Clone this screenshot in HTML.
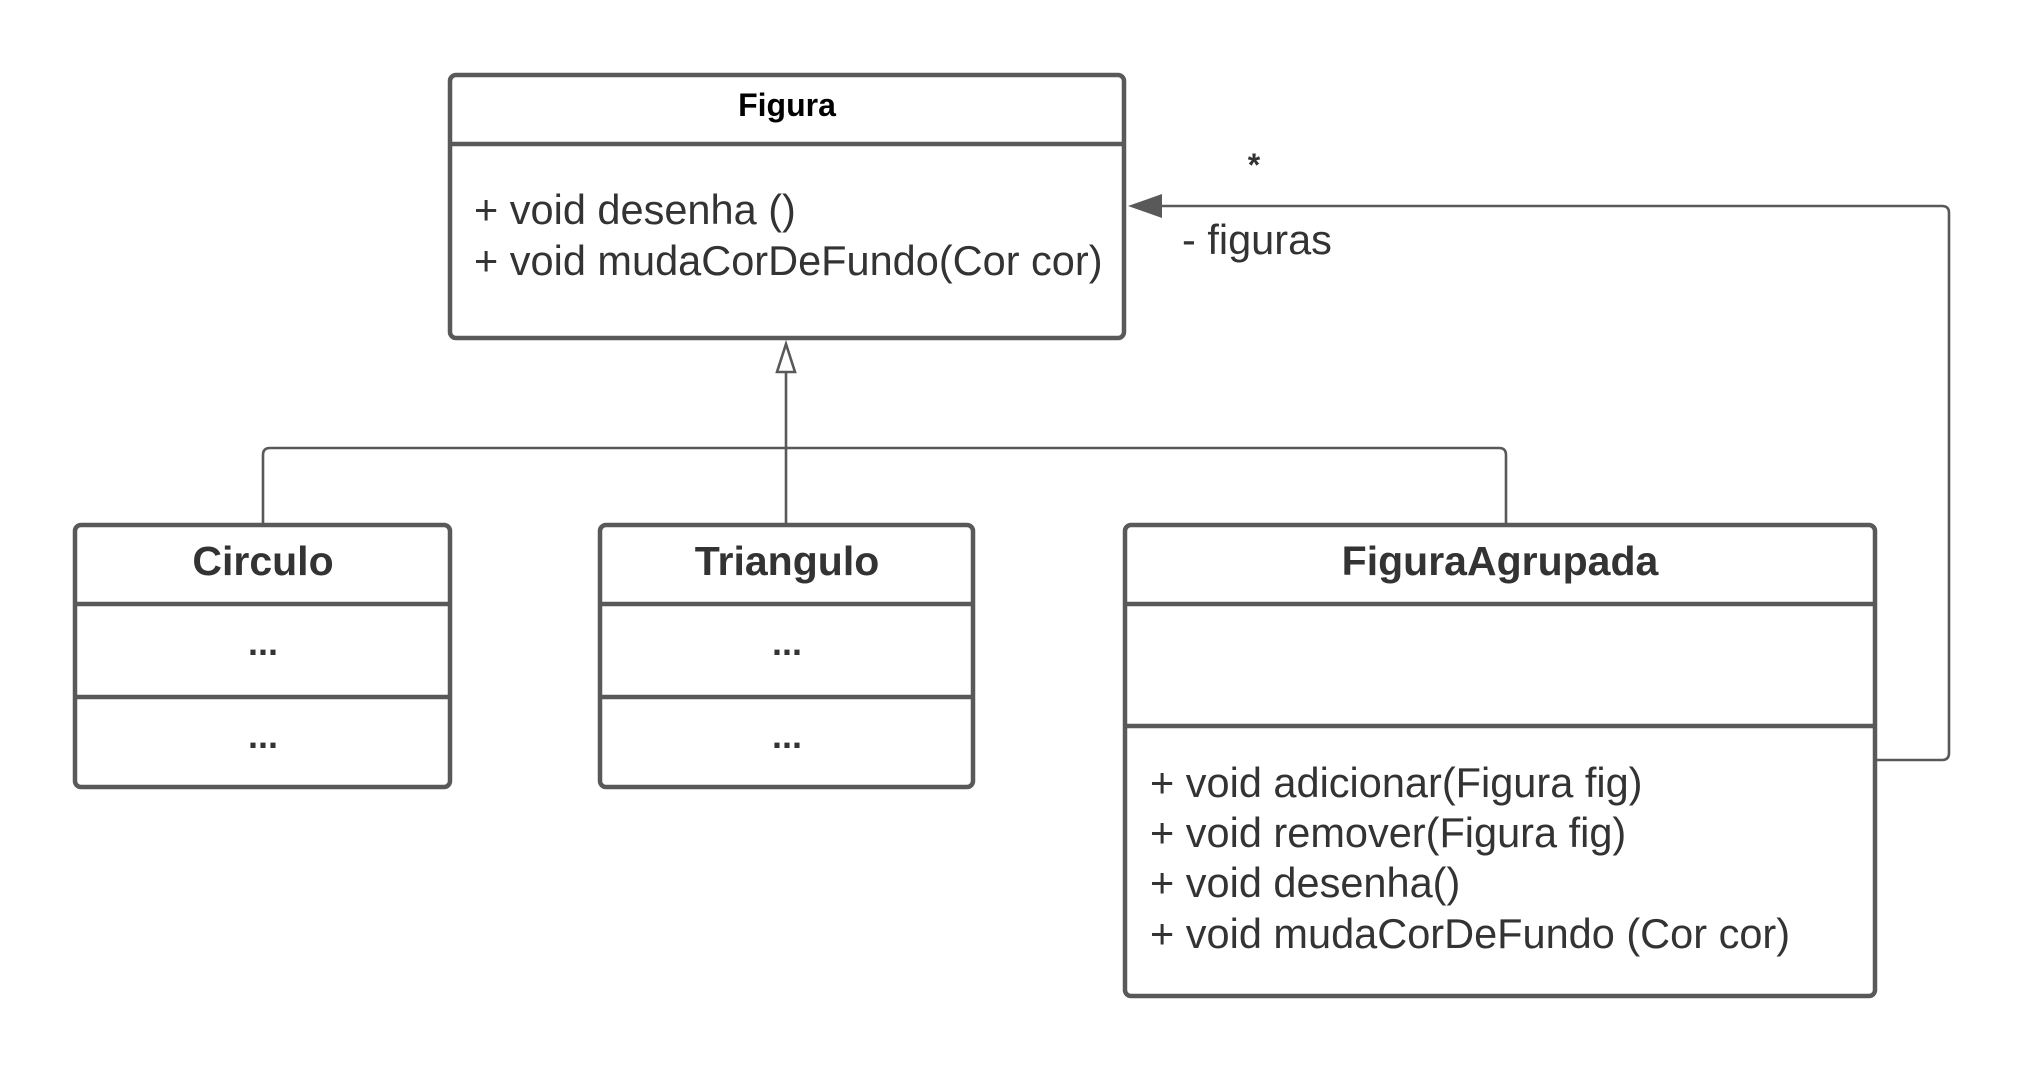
<!DOCTYPE html>
<html><head><style>
body{margin:0;background:#fff}
svg text{font-family:"Liberation Sans",sans-serif;fill:#333}
</style></head><body>
<svg width="2029" height="1071" viewBox="0 0 2029 1071" xmlns="http://www.w3.org/2000/svg">
<g fill="none" stroke="#595959" stroke-width="2.6">
<path d="M1875 760 H1942 Q1949 760 1949 753 V213 Q1949 206 1942 206 H1145"/>
<path d="M786 372 V524"/>
<path d="M263 524 V455 Q263 448 270 448 H1499 Q1506 448 1506 455 V524"/>
</g>
<polygon points="1128,206 1162,194 1162,218" fill="#595959"/>
<polygon points="786,344 777,372 795,372" fill="#fff" stroke="#595959" stroke-width="2.6"/>
<g fill="#fff" stroke="#595959" stroke-width="4.5">
<rect x="450" y="75" width="674" height="263" rx="6"/>
<rect x="75" y="525" width="375" height="262" rx="6"/>
<rect x="600" y="525" width="373" height="262" rx="6"/>
<rect x="1125" y="525" width="750" height="471" rx="6"/>
</g>
<g stroke="#595959" stroke-width="4.5">
<line x1="450" y1="144" x2="1124" y2="144"/>
<line x1="75" y1="604" x2="450" y2="604"/>
<line x1="75" y1="697" x2="450" y2="697"/>
<line x1="600" y1="604" x2="973" y2="604"/>
<line x1="600" y1="697" x2="973" y2="697"/>
<line x1="1125" y1="604" x2="1875" y2="604"/>
<line x1="1125" y1="726" x2="1875" y2="726"/>
</g>
<text x="787" y="116" font-size="32" font-weight="bold" text-anchor="middle" style="fill:#000">Figura</text>
<text x="474" y="224" font-size="41.5">+ void desenha ()</text>
<text x="474" y="275" font-size="41.5">+ void mudaCorDeFundo(Cor cor)</text>
<text x="1254" y="176" font-size="32" font-weight="bold" text-anchor="middle">*</text>
<text x="1182" y="254" font-size="41.5">- figuras</text>
<text x="263" y="575" font-size="41" font-weight="bold" text-anchor="middle">Circulo</text>
<text x="263" y="655" font-size="36" font-weight="bold" text-anchor="middle">...</text>
<text x="263" y="748" font-size="36" font-weight="bold" text-anchor="middle">...</text>
<text x="787" y="575" font-size="41" font-weight="bold" text-anchor="middle">Triangulo</text>
<text x="787" y="655" font-size="36" font-weight="bold" text-anchor="middle">...</text>
<text x="787" y="748" font-size="36" font-weight="bold" text-anchor="middle">...</text>
<text x="1500" y="575" font-size="41" font-weight="bold" text-anchor="middle">FiguraAgrupada</text>
<text x="1150" y="797" font-size="41.5">+ void adicionar(Figura fig)</text>
<text x="1150" y="847" font-size="41.5">+ void remover(Figura fig)</text>
<text x="1150" y="897" font-size="41.5">+ void desenha()</text>
<text x="1150" y="948" font-size="41.5">+ void mudaCorDeFundo (Cor cor)</text>
</svg>
</body></html>
